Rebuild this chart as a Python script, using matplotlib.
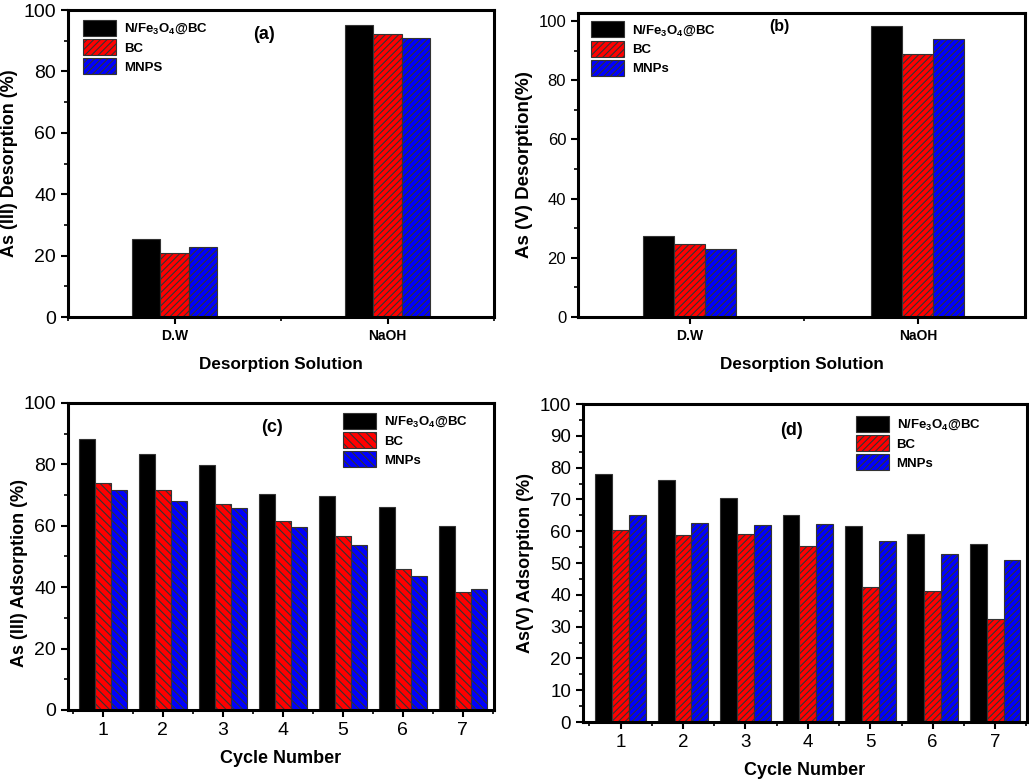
import matplotlib
matplotlib.use('Agg')
import matplotlib.pyplot as plt
import numpy as np
from matplotlib.ticker import MultipleLocator

plt.rcParams['font.family'] = ['Liberation Sans', 'DejaVu Sans']
plt.rcParams['mathtext.fontset'] = 'custom'
plt.rcParams['mathtext.rm'] = 'Liberation Sans:bold'
plt.rcParams['mathtext.bf'] = 'Liberation Sans:bold'
plt.rcParams['mathtext.it'] = 'Liberation Sans:bold'
plt.rcParams['hatch.linewidth'] = 0.8

# dados
solucoes = ['D.W', 'NaOH']
des_as3_nfe = [25.4, 95.1]
des_as3_bc = [20.8, 92.3]
des_as3_mnp = [22.8, 91.0]

des_as5_nfe = [27.4, 98.4]
des_as5_bc = [24.8, 89.0]
des_as5_mnp = [22.9, 94.1]

ciclos = [1, 2, 3, 4, 5, 6, 7]
ads_as3_nfe = [88.2, 83.4, 79.7, 70.5, 69.6, 66.1, 59.8]
ads_as3_bc = [74.0, 71.5, 67.1, 61.5, 56.7, 45.9, 38.3]
ads_as3_mnp = [71.8, 68.1, 65.7, 59.5, 53.8, 43.5, 39.3]

ads_as5_nfe = [77.9, 76.2, 70.4, 65.2, 61.8, 59.1, 55.9]
ads_as5_bc = [60.3, 58.7, 59.0, 55.3, 42.6, 41.1, 32.4]
ads_as5_mnp = [65.1, 62.5, 62.0, 62.2, 56.9, 52.9, 51.1]

nome_nfe = r'N/Fe$_3$O$_4$@BC'


def barras(ax, x, series, nomes, largura, hatch):
    x = np.asarray(x, dtype=float)
    cores = ['black', 'red', 'blue']
    hs = [None, hatch, hatch]
    for i, (s, n) in enumerate(zip(series, nomes)):
        ax.bar(x + (i - 1) * largura, s, largura, color=cores[i], edgecolor='#333333',
               linewidth=0.8, hatch=hs[i], label=n)


def estilo(ax, tam):
    for sp in ax.spines.values():
        sp.set_linewidth(2.2)
    ax.tick_params(which='major', direction='out', length=5, width=1.5, labelsize=tam)
    ax.tick_params(which='minor', direction='out', length=3, width=1.2)


def legenda(ax, loc, anchor):
    ax.legend(loc=loc, bbox_to_anchor=anchor, frameon=False, prop={'weight': 'bold', 'size': 9.5},
              handlelength=2.5, handleheight=1.5, labelspacing=0.22, handletextpad=0.6,
              borderaxespad=0)


fig = plt.figure(figsize=(10.29, 7.82), dpi=100)

# (a)
ax = fig.add_axes([0.0661, 0.5946, 0.414, 0.3926])
barras(ax, range(2), [des_as3_nfe, des_as3_bc, des_as3_mnp], [nome_nfe, 'BC', 'MNPS'], 0.133, '/////')
ax.set_xlim(-0.5, 1.5)
ax.set_ylim(0, 100)
ax.xaxis.set_minor_locator(MultipleLocator(0.5))
ax.yaxis.set_major_locator(MultipleLocator(20))
ax.yaxis.set_minor_locator(MultipleLocator(10))
estilo(ax, 14)
ax.set_xticks(range(2))
ax.set_xticklabels(solucoes, fontweight='bold', fontsize=10)
ax.set_ylabel('As (III) Desorption (%)', fontweight='bold', fontsize=13)
ax.set_xlabel('Desorption Solution', fontweight='bold', fontsize=12.3, labelpad=10)
ax.text(0.46, 0.92, '(a)', transform=ax.transAxes, ha='center', va='center', fontweight='bold', fontsize=13)
legenda(ax, 'upper left', (0.023, 0.985))

# (b)
ax = fig.add_axes([0.5617, 0.5946, 0.4344, 0.3887])
barras(ax, range(2), [des_as5_nfe, des_as5_bc, des_as5_mnp], [nome_nfe, 'BC', 'MNPs'], 0.136, '/////')
ax.set_xlim(-0.49, 1.47)
ax.set_ylim(0, 102.7)
ax.xaxis.set_minor_locator(MultipleLocator(0.5))
ax.yaxis.set_major_locator(MultipleLocator(20))
ax.yaxis.set_minor_locator(MultipleLocator(10))
estilo(ax, 12)
ax.set_xticks(range(2))
ax.set_xticklabels(solucoes, fontweight='bold', fontsize=10)
ax.set_ylabel('As (V) Desorption(%)', fontweight='bold', fontsize=13.5)
ax.set_xlabel('Desorption Solution', fontweight='bold', fontsize=12.3, labelpad=10)
ax.text(0.45, 0.957, '(b)', transform=ax.transAxes, ha='center', va='center', fontweight='bold', fontsize=11.5)
legenda(ax, 'upper left', (0.017, 0.99))

# (c)
ax = fig.add_axes([0.0661, 0.0921, 0.414, 0.3926])
barras(ax, ciclos, [ads_as3_nfe, ads_as3_bc, ads_as3_mnp], [nome_nfe, 'BC', 'MNPs'], 0.27, '\\\\\\\\')
ax.set_xlim(0.42, 7.52)
ax.set_ylim(0, 100)
ax.set_xticks(ciclos)
ax.xaxis.set_minor_locator(MultipleLocator(0.5))
ax.yaxis.set_major_locator(MultipleLocator(20))
ax.yaxis.set_minor_locator(MultipleLocator(10))
estilo(ax, 14)
ax.set_ylabel('As (III) Adsorption (%)', fontweight='bold', fontsize=13)
ax.yaxis.set_label_coords(-0.095, 0.446)
ax.set_xlabel('Cycle Number', fontweight='bold', fontsize=13, labelpad=8)
ax.text(0.48, 0.92, '(c)', transform=ax.transAxes, ha='center', va='center', fontweight='bold', fontsize=13)
legenda(ax, 'upper left', (0.633, 0.985))

# (d)
ax = fig.add_axes([0.5666, 0.0767, 0.4315, 0.4066])
barras(ax, ciclos, [ads_as5_nfe, ads_as5_bc, ads_as5_mnp], [nome_nfe, 'BC', 'MNPs'], 0.27, '/////')
ax.set_xlim(0.40, 7.51)
ax.set_ylim(0, 100)
ax.set_xticks(ciclos)
ax.xaxis.set_minor_locator(MultipleLocator(0.5))
ax.yaxis.set_major_locator(MultipleLocator(10))
ax.yaxis.set_minor_locator(MultipleLocator(5))
estilo(ax, 13.5)
ax.set_ylabel('As(V) Adsorption (%)', fontweight='bold', fontsize=13)
ax.set_xlabel('Cycle Number', fontweight='bold', fontsize=13, labelpad=8)
ax.text(0.47, 0.918, '(d)', transform=ax.transAxes, ha='center', va='center', fontweight='bold', fontsize=13)
legenda(ax, 'upper left', (0.602, 0.98))

fig.savefig('out.png', dpi=100)
